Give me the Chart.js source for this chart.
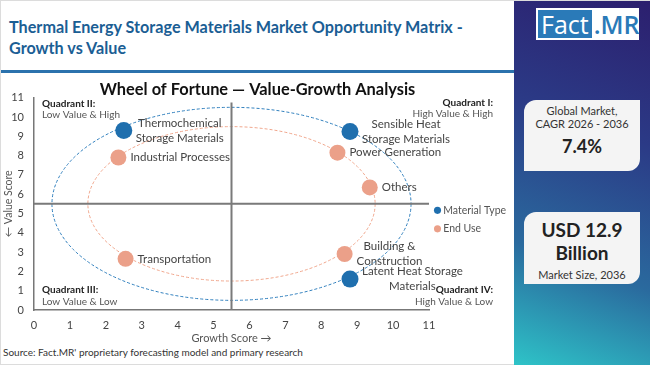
<!DOCTYPE html>
<html lang="en">
<head>
<meta charset="utf-8"/>
<title>Thermal Energy Storage Materials - Opportunity Matrix</title>
<script src="https://cdn.jsdelivr.net/npm/chart.js@4.4.0/dist/chart.umd.min.js"></script>
<style>
    body { margin: 0; width: 650px; height: 365px; overflow: hidden; background: #fff; font-family: Lato, sans-serif; }
    .page { position: relative; width: 650px; height: 365px; box-sizing: border-box; border: 1px solid #dcdcdc; }
    .heading { position: absolute; left: 8px; top: 15px; width: 505px; font-size: 16.2px; line-height: 21px; font-weight: 700; color: #1b5e94; white-space: nowrap; }
    .rule { position: absolute; left: 0; top: 69px; width: 513px; height: 3px; background: #2b72ad; }
    .side { position: absolute; left: 513px; top: 0; width: 137px; height: 365px; background: linear-gradient(200deg, #2c1f6e 0%, #2b3a86 35%, #2a6a9e 70%, #2ec4c8 100%); }
    .logo { position: absolute; left: 22px; top: 7px; width: 103px; height: 32px; background: #fff; display: flex; align-items: center; padding: 2px; box-sizing: border-box; font-family: 'Open Sans', sans-serif; font-size: 25px; line-height: 28px; }
    .logo .a { background: #2a7ab8; color: #fff; padding: 0 3px; height: 28px; }
    .logo .b { color: #2a7ab8; padding-left: 2px; font-weight: 600; }
    .box { position: absolute; left: 10px; width: 116px; background: #f4f4f4; border-radius: 12px 0 12px 0; text-align: center; color: #222; }
    .small { font-size: 11px; line-height: 13px; color: #333; }
    .big { font-size: 19px; line-height: 23px; font-weight: 700; }
    .source { position: absolute; left: 2px; top: 345px; font-size: 10px; color: #333; }
    .chartbox { position: absolute; left: 0; top: 72px; width: 513px; height: 272px; }
</style>
</head>
<body>
<div class="page">
    <div class="heading">Thermal Energy Storage Materials Market Opportunity Matrix -<br>Growth vs Value</div>
    <div class="rule"></div>
    <div class="chartbox"><canvas id="matrix"></canvas></div>
    <div class="source">Source: Fact.MR' proprietary forecasting model and primary research</div>
    <div class="side">
        <div class="logo"><span class="a">Fact</span><span class="b">.MR</span></div>
        <div class="box" style="top:99px;height:71px;">
            <div class="small" style="margin-top:4px;">Global Market,<br>CAGR 2026 - 2036</div>
            <div class="big" style="font-size:18px;margin-top:5px;">7.4%</div>
        </div>
        <div class="box" style="top:211px;height:72px;">
            <div class="big" style="margin-top:6px;">USD 12.9<br>Billion</div>
            <div class="small" style="margin-top:4px;">Market Size, 2036</div>
        </div>
    </div>
</div>

<script>
    // material type segments
    var materialLabels = [['Thermochemical', 'Storage Materials'], ['Sensible Heat', 'Storage Materials'], ['Latent Heat Storage', 'Materials']];
    var materialGrowth = [2.5, 8.8, 8.8];
    var materialValue = [9.3, 9.25, 1.6];

    // end use segments
    var endUseLabels = [['Industrial Processes'], ['Power Generation'], ['Others'], ['Building &', 'Construction'], ['Transportation']];
    var endUseGrowth = [2.35, 8.45, 9.35, 8.65, 2.55];
    var endUseValue = [7.9, 8.15, 6.35, 2.9, 2.65];

    // dashed rings around the middle of the matrix
    var ringCenter = [5.5, 5.5];
    var ringRadius = [5, 4];
    var quadrantSplit = 5.5;
    var axisTicks = [0, 1, 2, 3, 4, 5, 6, 7, 8, 9, 10, 11];

    var blue = '#1f6fae';
    var salmon = '#eba089';

    function toPoints(xs, ys) {
        return xs.map(function (v, i) { return {x: v, y: ys[i]}; });
    }

    var matrixPlugin = {
        id: 'matrix',
        beforeDatasetsDraw: function (chart) {
            var ctx = chart.ctx, x = chart.scales.x, y = chart.scales.y;
            var cx = x.getPixelForValue(ringCenter[0]);
            var cy = y.getPixelForValue(ringCenter[1]);
            var ringColors = ['#2f7fbd', '#f0a68c'];
            ringRadius.forEach(function (r, i) {
                var rx = x.getPixelForValue(ringCenter[0] + r) - cx;
                var ry = cy - y.getPixelForValue(ringCenter[1] + r);
                ctx.save();
                ctx.beginPath();
                ctx.ellipse(cx, cy, rx, ry, 0, 0, Math.PI * 2);
                ctx.setLineDash([3, 2]);
                ctx.lineWidth = 1;
                ctx.strokeStyle = ringColors[i];
                ctx.stroke();
                ctx.restore();
            });
            // quadrant dividers
            var qx = x.getPixelForValue(quadrantSplit);
            var qy = y.getPixelForValue(quadrantSplit);
            ctx.save();
            ctx.strokeStyle = '#7a7a7a';
            ctx.lineWidth = 2;
            ctx.beginPath();
            ctx.moveTo(chart.chartArea.left, qy);
            ctx.lineTo(chart.chartArea.right, qy);
            ctx.moveTo(qx, y.getPixelForValue(0));
            ctx.lineTo(qx, y.getPixelForValue(10.75));
            ctx.stroke();
            ctx.restore();
        },
        afterDatasetsDraw: function (chart) {
            var ctx = chart.ctx, area = chart.chartArea;
            var allLabels = [materialLabels, endUseLabels];
            ctx.save();
            ctx.font = '11.5px Lato';
            ctx.fillStyle = '#444';
            ctx.textBaseline = 'middle';
            ctx.textAlign = 'center';
            chart.data.datasets.forEach(function (ds, d) {
                var meta = chart.getDatasetMeta(d);
                meta.data.forEach(function (pt, j) {
                    var lines = allLabels[d][j];
                    var w = Math.max.apply(null, lines.map(function (l) { return ctx.measureText(l).width; }));
                    var mid = pt.x + 12 + w / 2;
                    lines.forEach(function (l, k) {
                        ctx.fillText(l, mid, pt.y + (k - (lines.length - 1) / 2) * 15);
                    });
                });
            });

            // quadrant captions
            function caption(title, sub, px, py, align) {
                ctx.textAlign = align;
                ctx.fillStyle = '#222';
                ctx.font = 'bold 10px Lato';
                ctx.fillText(title, px, py);
                ctx.fillStyle = '#555';
                ctx.font = '10px Lato';
                ctx.fillText(sub, px, py + 11.5);
            }
            caption('Quadrant II:', 'Low Value & High', area.left + 8, area.top + 6, 'left');
            caption('Quadrant I:', 'High Value & High', area.right + 64, area.top + 5, 'right');
            caption('Quadrant III:', 'Low Value & Low', area.left + 8, area.bottom - 20, 'left');
            caption('Quadrant IV:', 'High Value & Low', area.right + 64, area.bottom - 20, 'right');
            ctx.restore();
        }
    };

    var chart = new Chart(document.getElementById('matrix'), {
        type: 'scatter',
        data: {
            datasets: [
                {
                    label: 'Material Type',
                    data: toPoints(materialGrowth, materialValue),
                    backgroundColor: blue,
                    borderColor: blue,
                    pointRadius: 8.5,
                    pointHoverRadius: 8.5,
                    borderWidth: 0
                },
                {
                    label: 'End Use',
                    data: toPoints(endUseGrowth, endUseValue),
                    backgroundColor: salmon,
                    borderColor: salmon,
                    pointRadius: 8,
                    pointHoverRadius: 8,
                    borderWidth: 0
                }
            ]
        },
        options: {
            responsive: true,
            maintainAspectRatio: false,
            animation: false,
            layout: { padding: 0 },
            plugins: {
                title: {
                    display: true,
                    text: 'Wheel of Fortune \u2014 Value-Growth Analysis',
                    color: '#111',
                    font: { family: 'Lato', size: 16.4, weight: 'bold' },
                    padding: { top: 7, bottom: -2 }
                },
                legend: {
                    position: 'right',
                    maxWidth: 85,
                    // empty title only pushes the two items a little lower
                    title: { display: true, text: ' ', padding: 4, font: { size: 11 } },
                    labels: {
                        usePointStyle: true,
                        pointStyle: 'circle',
                        boxWidth: 1,
                        boxHeight: 5,
                        color: '#555',
                        padding: 8,
                        font: { family: 'Lato', size: 10.5 }
                    }
                },
                tooltip: { enabled: false }
            },
            scales: {
                x: {
                    type: 'linear',
                    min: 0,
                    max: 11,
                    afterBuildTicks: function (s) { s.ticks = axisTicks.map(function (v) { return {value: v}; }); },
                    afterFit: function (s) { s.height = 35; },
                    grid: { display: false, drawTicks: false },
                    border: { color: '#777', width: 1.5 },
                    ticks: { color: '#444', font: { family: 'Lato', size: 11 }, padding: 9 },
                    title: { display: true, text: 'Growth Score \u2192', color: '#555', font: { family: 'Lato', size: 11 }, padding: 0 }
                },
                y: {
                    type: 'linear',
                    min: 0,
                    max: 11,
                    afterBuildTicks: function (s) { s.ticks = axisTicks.map(function (v) { return {value: v}; }); },
                    afterFit: function (s) { s.width = 33; },
                    grid: { display: false, drawTicks: false },
                    border: { color: '#777', width: 1.5 },
                    ticks: { color: '#444', font: { family: 'Lato', size: 11 }, padding: 10 },
                    title: { display: true, text: '\u2190 Value Score', color: '#555', font: { family: 'Lato', size: 10.5 }, padding: 1 }
                }
            }
        },
        plugins: [matrixPlugin]
    });
</script>
</body>
</html>
